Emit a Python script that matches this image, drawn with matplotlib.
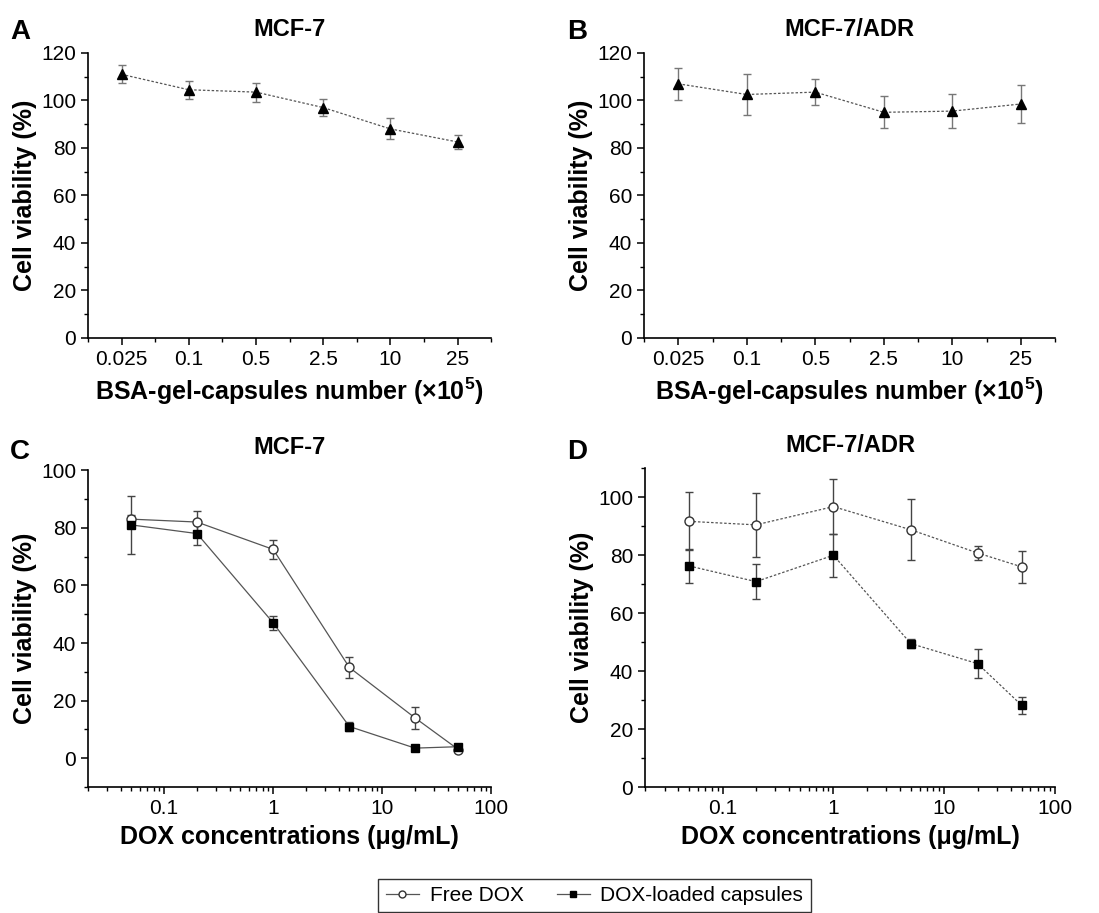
import matplotlib
matplotlib.use("Agg")
import matplotlib.pyplot as plt
from matplotlib.lines import Line2D
from matplotlib.ticker import MultipleLocator, FixedLocator, NullFormatter
import numpy as np

plt.rcParams['font.family'] = ['Liberation Sans', 'DejaVu Sans']
plt.rcParams['mathtext.fontset'] = 'custom'
plt.rcParams['mathtext.rm'] = 'Liberation Sans'
plt.rcParams['mathtext.bf'] = 'Liberation Sans:bold'

# top row: capsules alone
cap_labels = ['0.025', '0.1', '0.5', '2.5', '10', '25']
a_mean = [111, 104.5, 103.5, 97, 88, 82.5]
a_err = [3.8, 3.8, 4.0, 3.4, 4.4, 2.8]
b_mean = [107, 102.5, 103.5, 95, 95.5, 98.5]
b_err = [6.8, 8.7, 5.5, 6.8, 7.2, 7.8]

# bottom row: DOX
dox = [0.05, 0.2, 1, 5, 20, 50]
c_free = [83, 82, 72.5, 31.5, 14, 3]
c_free_err = [1.5, 3.8, 3.3, 3.5, 3.8, 0.5]
c_caps = [81, 78, 47, 11, 3.5, 4]
c_caps_err = [10, 4, 2.5, 1.5, 0.5, 0.5]
d_free = [91.7, 90.5, 96.8, 88.8, 80.8, 76]
d_free_err = [10, 11, 9.4, 10.5, 2.4, 5.5]
d_caps = [76.3, 70.9, 80, 49.5, 42.6, 28.2]
d_caps_err = [6, 6, 7.5, 1.5, 5, 3]

fig = plt.figure(figsize=(10.99, 9.13), dpi=100)

ax_a = fig.add_axes([0.080, 0.630, 0.367, 0.312])
ax_b = fig.add_axes([0.586, 0.630, 0.374, 0.312])
ax_c = fig.add_axes([0.080, 0.138, 0.367, 0.347])
ax_d = fig.add_axes([0.587, 0.138, 0.373, 0.349])

lc = '#555555'
ec = '#777777'
tick_fs = 15
lab_fs = 18
tit_fs = 17


def style(ax):
    for s in ['top', 'right']:
        ax.spines[s].set_visible(False)
    for s in ['left', 'bottom']:
        ax.spines[s].set_linewidth(1.2)
    ax.tick_params(which='major', direction='out', length=5, width=1.1, labelsize=tick_fs)
    ax.tick_params(which='minor', direction='out', length=3, width=1.0)
    ax.set_ylabel('Cell viability (%)', fontsize=lab_fs, fontweight='bold', labelpad=3)


for ax, mean, err, title in [(ax_a, a_mean, a_err, 'MCF-7'), (ax_b, b_mean, b_err, 'MCF-7/ADR')]:
    x = np.arange(len(cap_labels))
    ax.errorbar(x, mean, yerr=err, color=lc, lw=0.9, ls=(0, (2, 1.5)), marker='^', ms=7,
                mfc='black', mec='black', ecolor=ec, elinewidth=1, capsize=3)
    ax.set_xlim(-0.5, len(cap_labels) - 0.5)
    ax.set_ylim(0, 120)
    ax.set_xticks(x)
    ax.set_xticklabels(cap_labels)
    ax.xaxis.set_minor_locator(FixedLocator(np.arange(-0.5, len(cap_labels), 1.0)))
    ax.yaxis.set_major_locator(MultipleLocator(20))
    ax.yaxis.set_minor_locator(MultipleLocator(10))
    style(ax)
    ax.set_xlabel(r'BSA-gel-capsules number (×10$^{\mathbf{5}}$)', fontsize=lab_fs,
                  fontweight='bold', labelpad=5)
    ax.set_title(title, fontsize=tit_fs, fontweight='bold', pad=12)

for ax, fm, fe, cm, ce, title, ylim, ls in [
        (ax_c, c_free, c_free_err, c_caps, c_caps_err, 'MCF-7', (-10, 100), '-'),
        (ax_d, d_free, d_free_err, d_caps, d_caps_err, 'MCF-7/ADR', (0, 110), (0, (2, 1.5)))]:
    ax.set_xscale('log')
    ax.errorbar(dox, fm, yerr=fe, color=lc, lw=0.9, ls=ls, marker='o', ms=6.5,
                mfc='white', mec='#333333', mew=1, ecolor='#444444', elinewidth=1, capsize=3)
    ax.errorbar(dox, cm, yerr=ce, color=lc, lw=0.9, ls=ls, marker='s', ms=6,
                mfc='black', mec='black', ecolor='#444444', elinewidth=1, capsize=3)
    ax.set_xlim(0.02, 100)
    ax.set_ylim(*ylim)
    ax.set_xticks([0.1, 1, 10, 100])
    ax.set_xticklabels(['0.1', '1', '10', '100'])
    ax.xaxis.set_minor_formatter(NullFormatter())
    ax.yaxis.set_major_locator(MultipleLocator(20))
    ax.yaxis.set_minor_locator(MultipleLocator(10))
    style(ax)
    ax.set_xlabel('DOX concentrations (μg/mL)', fontsize=lab_fs, fontweight='bold', labelpad=5)
    ax.set_title(title, fontsize=tit_fs, fontweight='bold', pad=12)

for letter, x, y in [('A', 0.009, 0.965), ('B', 0.516, 0.965), ('C', 0.009, 0.505), ('D', 0.516, 0.505)]:
    fig.text(x, y, letter, fontsize=20, fontweight='bold', ha='left', va='center')

handles = [
    Line2D([], [], color=lc, lw=0.9, marker='o', ms=5, mfc='white', mec='#333333'),
    Line2D([], [], color=lc, lw=0.9, marker='s', ms=5, mfc='black', mec='black'),
]
leg = fig.legend(handles, ['Free DOX', 'DOX-loaded capsules'], loc='upper center',
                 bbox_to_anchor=(0.541, 0.049), ncol=2, fontsize=15, frameon=True,
                 fancybox=False, edgecolor='black', handlelength=1.6, columnspacing=1.6,
                 borderpad=0.35, handletextpad=0.5)
leg.get_frame().set_linewidth(1.0)

fig.savefig('out.png', dpi=100)
